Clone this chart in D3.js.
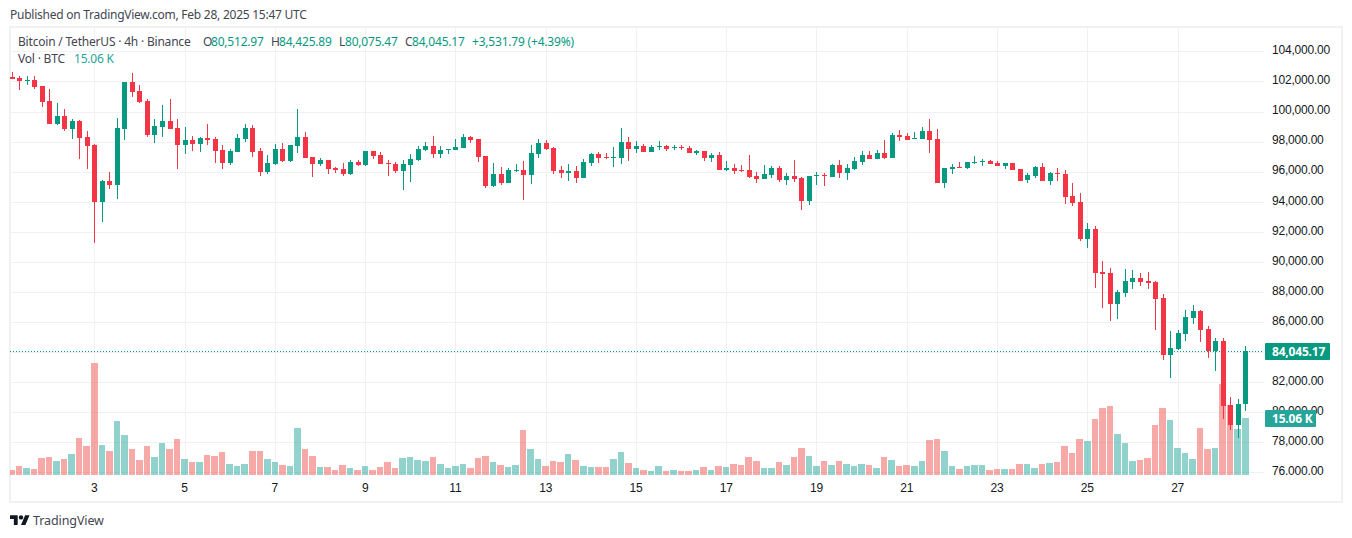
<!DOCTYPE html>
<html>
<head>
  <title>BTCUSDT 4h</title>
  <script src="https://d3js.org/d3.v7.min.js"></script>
  <style>
    html, body { margin: 0; padding: 0; background: #fff; }
    svg { display: block; font-family: "Noto Sans", sans-serif; letter-spacing: -0.2px; }
    .tick text { font-size: 12px; fill: #131722; }
  </style>
</head>
<body>
  <svg id="chart" width="1352" height="538"></svg>

  <script>
    // Candle values, one every 4 hours from Feb 1 04:00
    const opens = [
      102295,102228,102050,102095,101696,100700,99170,99700,98840,99370,
      98305,97770,93980,95380,95110,98840,101960,101360,100700,98437,
      98970,99370,98903,97770,98105,97840,98240,98170,97440,96575,
      97307,98170,98903,97373,95977,96510,97506,96710,97706,98305,
      96975,96510,96775,96243,96177,95844,96642,96443,97374,97108,
      96575,96509,96045,96443,96775,97440,97706,97174,97440,97440,
      97573,98305,98172,97041,95046,95844,95245,96045,96110,95778,
      97174,97906,97573,96110,95910,96045,95578,96575,97174,96975,
      96908,96908,97972,97507,97706,97307,97640,97706,97573,97640,
      97573,97240,97374,96908,97108,96110,96243,96110,96110,95711,
      95511,95778,96243,95445,95711,95578,94048,95711,95778,95645,
      96443,95910,96177,96642,97108,96842,97240,96908,98437,98371,
      98172,98172,98703,98172,95245,96177,96310,96243,96575,96642,
      96708,96575,96376,96575,96177,95445,95711,96310,95378,95910,
      95844,94381,93982,91522,92187,89327,89260,87199,87930,88662,
      88928,88728,88662,87598,83807,84206,85204,86268,86733,85536,
      84073,84738,80482,79153,80512.97
    ];
    const highs = [
      102605,102360,102360,102360,101696,101495,100565,100167,99500,99435,
      98705,97840,95445,95977,99568,101960,102560,101760,100830,99500,
      100432,100830,99500,98970,98371,98305,99170,98305,97770,97506,
      98504,99170,99100,97573,97107,97840,97905,97770,100167,98637,
      96975,96908,96775,96330,96575,96775,96775,97374,97374,97307,
      96775,96642,96775,97174,97706,97972,98371,97706,97507,98172,
      98504,98371,98172,97041,96575,96310,96243,96509,96709,97773,
      98172,98105,97640,96376,96509,96376,96842,97240,97307,97240,
      97640,98903,98305,98038,97839,97773,98038,97773,97773,97773,
      97706,97440,97374,97240,97307,96709,96509,96443,97108,95977,
      96443,96376,96376,95910,96775,95645,95711,95977,95910,96509,
      96775,96509,96975,97374,97374,97440,98105,98570,98770,98570,
      98637,98970,99500,98836,96243,96509,96642,96642,97041,96841,
      96775,96708,96575,96575,96177,95910,96376,96575,95977,96243,
      96110,95245,94580,92585,92386,90058,89593,88130,89527,89460,
      89260,89327,88728,87864,85403,85470,86800,87132,86800,85736,
      84938,84938,81015,80882,84425.89
    ];
    const lows = [
      102160,101430,101760,101495,100300,99170,99100,98705,98170,96840,
      96176,91255,92650,94845,94180,98105,100965,100565,98305,97905,
      98305,98840,96176,97174,97373,97307,97770,96575,96176,96442,
      97307,97972,96975,95710,95844,96442,96642,96642,97240,96908,
      95645,96376,95844,95910,95711,95778,96376,96376,96842,96509,
      95711,95910,94780,95312,96709,97374,96908,96908,97174,97440,
      97573,97906,96642,94913,94980,95112,95245,95977,94115,95179,
      96908,97440,95844,95578,95379,95245,95578,96376,96575,96842,
      96310,96509,96709,97240,97307,97307,97440,97374,97440,97440,
      97240,97108,96709,96642,96110,96045,95844,95977,95578,95245,
      95511,95578,95312,95112,95312,93450,93782,95112,95046,95645,
      95578,95445,96110,96443,96842,96842,96842,96908,98038,98105,
      98172,98172,97240,95245,94913,95844,96243,96177,96509,96376,
      96509,96376,96177,96110,95378,95245,95578,95378,95112,95378,
      93850,93716,91389,90923,88263,86933,86070,86202,87664,88196,
      88396,88196,85470,83475,82278,84140,84738,85869,84672,83608,
      82744,79551,78820,78288,80075.47
    ];
    const closes = [
      102160,102030,102095,101630,100632,99170,99700,98840,99370,98240,
      97706,93980,95380,95110,98903,101960,101297,100632,98437,99036,
      99370,98840,97770,98105,97840,98240,98105,97373,96575,97373,
      98240,98903,97307,95977,96575,97506,96710,97770,98305,96908,
      96510,96775,96177,96110,95844,96642,96443,97374,97041,96509,
      96530,96045,96509,96842,97507,97706,97174,97440,97507,97640,
      98305,98105,96975,95046,95844,95245,96110,96110,95778,97240,
      97906,97507,96045,95910,96045,95578,96642,97174,96908,96908,
      96975,97972,97507,97706,97307,97640,97706,97507,97640,97573,
      97240,97374,96908,97108,96110,96243,96045,96045,95645,95511,
      95844,96243,95445,95711,95511,94048,95711,95778,95711,96443,
      95910,96243,96709,97108,96842,97240,96908,98437,98305,98105,
      98238,98703,98105,95245,96243,96310,96243,96642,96642,96708,
      96509,96376,96575,96110,95378,95778,96310,95378,95910,95844,
      94315,93915,91522,92187,89260,89194,87199,87997,88728,88928,
      88662,88595,87531,83807,84273,85270,86335,86733,85470,84073,
      84738,80416,79153,80549,84045.17
    ];
    // Volume in thousands of BTC
    const volumes = [
      1.32,2.38,1.85,1.59,4.49,4.76,3.70,4.23,5.55,9.78,
      7.66,29.59,7.93,6.34,14.27,10.57,6.87,3.96,7.66,4.76,
      8.45,6.87,9.51,4.23,3.43,3.43,5.28,5.02,6.08,2.91,
      2.38,2.91,6.34,6.34,4.23,3.43,2.64,2.38,12.42,6.87,
      5.02,2.11,2.11,1.32,2.64,1.85,1.32,2.38,1.32,2.11,
      3.43,1.85,4.49,4.76,3.96,3.70,4.76,2.91,1.85,2.38,
      2.91,1.85,4.49,5.02,3.43,2.64,2.11,2.64,11.89,6.87,
      4.23,2.38,3.70,3.43,5.55,3.96,2.38,2.11,2.11,2.11,
      4.23,6.08,3.17,1.85,1.32,1.06,2.38,1.06,1.32,1.06,
      1.06,1.32,2.11,1.32,2.38,2.11,2.91,2.64,4.76,3.70,
      1.85,1.85,3.43,2.64,4.76,7.13,5.02,2.38,3.70,2.64,
      3.70,2.91,2.38,2.91,2.64,1.85,4.76,3.96,2.38,2.64,
      2.38,3.70,9.25,9.51,6.34,2.38,1.59,2.38,2.64,2.64,
      1.32,1.59,1.59,1.59,2.91,2.91,1.85,2.91,3.17,3.43,
      7.66,5.81,9.51,8.98,14.80,17.70,18.23,10.83,8.45,3.70,
      3.96,4.49,13.21,17.70,14.53,7.13,5.81,4.23,12.42,6.87,
      7.13,24.04,18.49,12.15,15.06
    ];
    const priceTicks = d3.range(76000, 106000, 2000);
    const dayTicks = [3, 5, 7, 9, 11, 13, 15, 17, 19, 21, 23, 25, 27];
    const lastPrice = 84045.17;
    const lastVolume = 15.06;

    // Colours
    const upColor = "#089981", downColor = "#f23645";
    const volUp = "#26a69a", volDown = "#ef5350";
    const gridColor = "#f1f1f2", frameColor = "#f1f1f1", textColor = "#131722";

    const svg = d3.select("#chart");
    const firstTime = Date.UTC(2025, 1, 1, 4), stepMs = 4 * 3600 * 1000;
    const timeOf = i => new Date(firstTime + i * stepMs);

    const x = d3.scaleUtc()
      .domain([timeOf(0), timeOf(closes.length - 1)])
      .range([11.55, 1245.3]);
    const y = d3.scaleLinear().domain([76000, 104000]).range([472.2, 51.4]);
    const yVol = d3.scaleLinear().domain([0, d3.max(volumes)]).range([475, 363]);

    const candles = closes.map((c, i) => ({
      i, open: opens[i], high: highs[i], low: lows[i], close: c, vol: volumes[i],
      up: c >= opens[i], cx: x(timeOf(i))
    }));

    // Clip everything in the pane to the frame, the price scale stops at the volume baseline
    const defs = svg.append("defs");
    defs.append("clipPath").attr("id", "pane").append("rect")
      .attr("x", 10).attr("y", 27).attr("width", 1254).attr("height", 448);
    defs.append("clipPath").attr("id", "scale").append("rect")
      .attr("x", 1264).attr("y", 27).attr("width", 78).attr("height", 448);

    // Outer frame
    svg.append("rect")
      .attr("x", 10).attr("y", 27).attr("width", 1332).attr("height", 475)
      .attr("fill", "none").attr("stroke", frameColor).attr("stroke-width", 2)
      .attr("shape-rendering", "crispEdges");

    const pane = svg.append("g").attr("clip-path", "url(#pane)");

    // Grid
    pane.selectAll(".hgrid").data(priceTicks).enter().append("line")
      .attr("x1", 10).attr("x2", 1264)
      .attr("y1", d => Math.round(y(d)) + 0.5).attr("y2", d => Math.round(y(d)) + 0.5)
      .attr("stroke", gridColor);
    const dayDate = d => new Date(Date.UTC(2025, 1, d));
    pane.selectAll(".vgrid").data(dayTicks).enter().append("line")
      .attr("x1", d => Math.round(x(dayDate(d))) + 0.5).attr("x2", d => Math.round(x(dayDate(d))) + 0.5)
      .attr("y1", 27).attr("y2", 475)
      .attr("stroke", gridColor);

    // Volume bars, behind the candles
    const barLeft = cx => Math.round(cx - 3.3);
    pane.selectAll(".vol").data(candles).enter().append("rect")
      .attr("class", "vol")
      .attr("x", d => barLeft(d.cx))
      .attr("width", d => barLeft(d.cx + 7.523) - barLeft(d.cx) - 1)
      .attr("y", d => Math.round(yVol(d.vol)))
      .attr("height", d => 475 - Math.round(yVol(d.vol)))
      .attr("fill", d => d.up ? volUp : volDown)
      .attr("fill-opacity", 0.5)
      .attr("shape-rendering", "crispEdges");

    // Last price line
    pane.append("line")
      .attr("x1", 10).attr("x2", 1264)
      .attr("y1", Math.round(y(lastPrice)) + 0.5).attr("y2", Math.round(y(lastPrice)) + 0.5)
      .attr("stroke", upColor).attr("stroke-dasharray", "1 2");

    // Candles
    const candleG = pane.selectAll(".candle").data(candles).enter().append("g")
      .attr("class", "candle")
      .attr("fill", d => d.up ? upColor : downColor)
      .attr("shape-rendering", "crispEdges");
    candleG.append("rect")
      .attr("x", d => Math.round(d.cx))
      .attr("width", 1)
      .attr("y", d => y(d.high))
      .attr("height", d => y(d.low) - y(d.high));
    candleG.append("rect")
      .attr("x", d => Math.round(d.cx) - 2)
      .attr("width", 5)
      .attr("y", d => y(Math.max(d.open, d.close)))
      .attr("height", d => Math.max(1, Math.abs(y(d.open) - y(d.close))));

    // Price scale
    svg.append("g")
      .attr("clip-path", "url(#scale)")
      .append("g")
      .attr("transform", "translate(1264,-1)")
      .call(d3.axisRight(y).tickValues(priceTicks).tickSize(0).tickPadding(8).offset(0)
        .tickFormat(d3.format(",.2f")))
      .call(g => g.select(".domain").remove());

    // Day labels
    svg.append("g")
      .attr("transform", "translate(0,480)")
      .call(d3.axisBottom(x).tickValues(dayTicks.map(dayDate)).tickSize(0).tickPadding(3).offset(0)
        .tickFormat(d3.utcFormat("%-d")))
      .call(g => g.select(".domain").remove());

    // Last value tags
    function valueTag(top, width, h, fill, label) {
      svg.append("rect").attr("x", 1265).attr("y", top).attr("width", width).attr("height", h)
        .attr("fill", fill).attr("rx", 1);
      svg.append("text").attr("x", 1272).attr("y", top + h / 2 + 4.2)
        .attr("fill", "#fff").attr("font-size", 12).attr("font-weight", 700).text(label);
    }
    valueTag(343, 65, 17, upColor, d3.format(",.2f")(lastPrice));
    valueTag(410, 51, 17, volUp, lastVolume.toFixed(2) + " K");

    // Header and legend
    svg.append("text").attr("x", 10).attr("y", 19).attr("font-size", 12)
      .attr("letter-spacing", -0.25)
      .attr("fill", "#434651").text("Published on TradingView.com, Feb 28, 2025 15:47 UTC");

    function legendText(px, py, color, str) {
      svg.append("text").attr("x", px).attr("y", py).attr("font-size", 12)
        .attr("fill", color).text(str);
    }
    const labelColor = "#434651";
    legendText(18, 46, labelColor, "Bitcoin / TetherUS · 4h · Binance");
    legendText(203, 46, labelColor, "O");
    legendText(211, 46, upColor, d3.format(",.2f")(opens[opens.length - 1]));
    legendText(271, 46, labelColor, "H");
    legendText(279, 46, upColor, d3.format(",.2f")(highs[highs.length - 1]));
    legendText(339, 46, labelColor, "L");
    legendText(345, 46, upColor, d3.format(",.2f")(lows[lows.length - 1]));
    legendText(405, 46, labelColor, "C");
    legendText(412, 46, upColor, d3.format(",.2f")(lastPrice));
    legendText(472, 46, upColor, "+3,531.79 (+4.39%)");
    legendText(18, 63, labelColor, "Vol · BTC");
    legendText(74, 63, volUp, lastVolume.toFixed(2) + " K");

    // TradingView logo and name
    const logo = svg.append("g")
      .attr("transform", "translate(10,513) scale(0.55)")
      .attr("fill", textColor);
    logo.append("path").attr("d", "M14 22H7V11H0V4h14v18zM28 22h-8l7.5-18h8L28 22z");
    logo.append("circle").attr("cx", 20).attr("cy", 8).attr("r", 4);
    svg.append("text").attr("x", 33).attr("y", 525).attr("font-size", 12.5)
      .attr("letter-spacing", -0.1)
      .attr("fill", "#434651").text("TradingView");
  </script>
</body>
</html>
